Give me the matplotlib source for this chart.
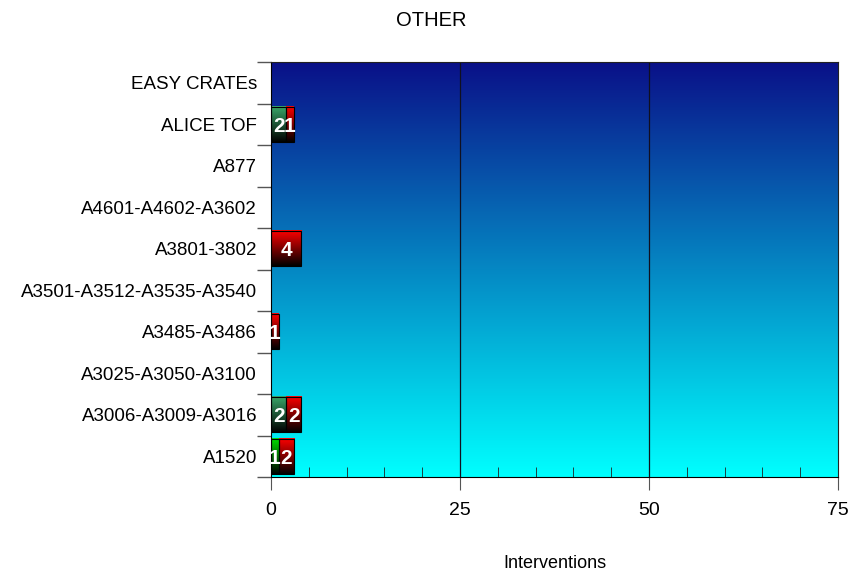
import numpy as np
import matplotlib
matplotlib.use("Agg")
import matplotlib.pyplot as plt
from matplotlib.colors import LinearSegmentedColormap

plt.rcParams['font.family'] = ['Liberation Sans', 'DejaVu Sans']

# categories listed bottom -> top
categories = ["A1520", "A3006-A3009-A3016", "A3025-A3050-A3100", "A3485-A3486",
              "A3501-A3512-A3535-A3540", "A3801-3802", "A4601-A4602-A3602",
              "A877", "ALICE TOF", "EASY CRATEs"]
lime_vals = [1, 0, 0, 0, 0, 0, 0, 0, 0, 0]
green_vals = [0, 2, 0, 0, 0, 0, 0, 0, 2, 0]
red_vals = [2, 2, 0, 1, 0, 4, 0, 0, 1, 0]

series = [(lime_vals, "#00e000"), (green_vals, "#3aa86a"), (red_vals, "#ff0000")]

fig = plt.figure(figsize=(8.62, 5.71), dpi=100)
ax = fig.add_axes([0.3144, 0.1646, 0.6578, 0.7268])

xmax = 75
ax.set_xlim(0, xmax)
ax.set_ylim(-0.5, len(categories) - 0.5)

# background gradient, navy at top to cyan at bottom
bg = LinearSegmentedColormap.from_list("bg", ["#00ffff", "#0a1088"])
grad = np.linspace(0, 1, 256).reshape(-1, 1)
ax.imshow(grad, cmap=bg, origin="lower", aspect="auto",
          extent=[0, xmax, -0.5, len(categories) - 0.5], zorder=0)

for xv in [25, 50]:
    ax.axvline(xv, color="#101020", lw=0.9, zorder=1)

h = 0.85
left = np.zeros(len(categories))
for vals, col in series:
    cm = LinearSegmentedColormap.from_list("seg", ["#000000", col])
    for i, v in enumerate(vals):
        if v <= 0:
            continue
        x0 = left[i]
        ax.imshow(grad, cmap=cm, origin="lower", aspect="auto",
                  extent=[x0, x0 + v, i - h / 2, i + h / 2], zorder=2)
        ax.add_patch(plt.Rectangle((x0, i - h / 2), v, h, fill=False,
                                   edgecolor="black", lw=0.8, zorder=3))
        ax.text(x0 + v / 2, i - 0.05, str(v), color="white", fontsize=15,
                fontweight="bold", ha="center", va="center", zorder=4)
        left[i] += v

ax.set_xlim(0, xmax)
ax.set_ylim(-0.5, len(categories) - 0.5)

ax.set_yticks(np.arange(len(categories)))
ax.set_yticklabels(categories, fontsize=13.5)
ax.set_yticks(np.arange(-0.5, len(categories)), minor=True)
ax.tick_params(axis="y", which="major", length=0, pad=10)
ax.tick_params(axis="y", which="minor", length=10, color="#555555", width=1)

ax.set_xticks([0, 25, 50, 75])
ax.set_xticks(np.arange(0, 76, 5), minor=True)
ax.tick_params(axis="x", which="major", length=9, color="#555555",
               labelsize=14, pad=9, direction="out")
ax.tick_params(axis="x", which="minor", length=7, color="#222222",
               direction="in", bottom=True)

for s in ["top", "right"]:
    ax.spines[s].set_color("#222222")
ax.spines["left"].set_color("black")
ax.spines["bottom"].set_color("black")

fig.suptitle("OTHER", fontsize=14.5, x=0.5, y=0.98)
ax.set_xlabel("Interventions", fontsize=13, labelpad=26)

fig.savefig("out.png", dpi=100)
